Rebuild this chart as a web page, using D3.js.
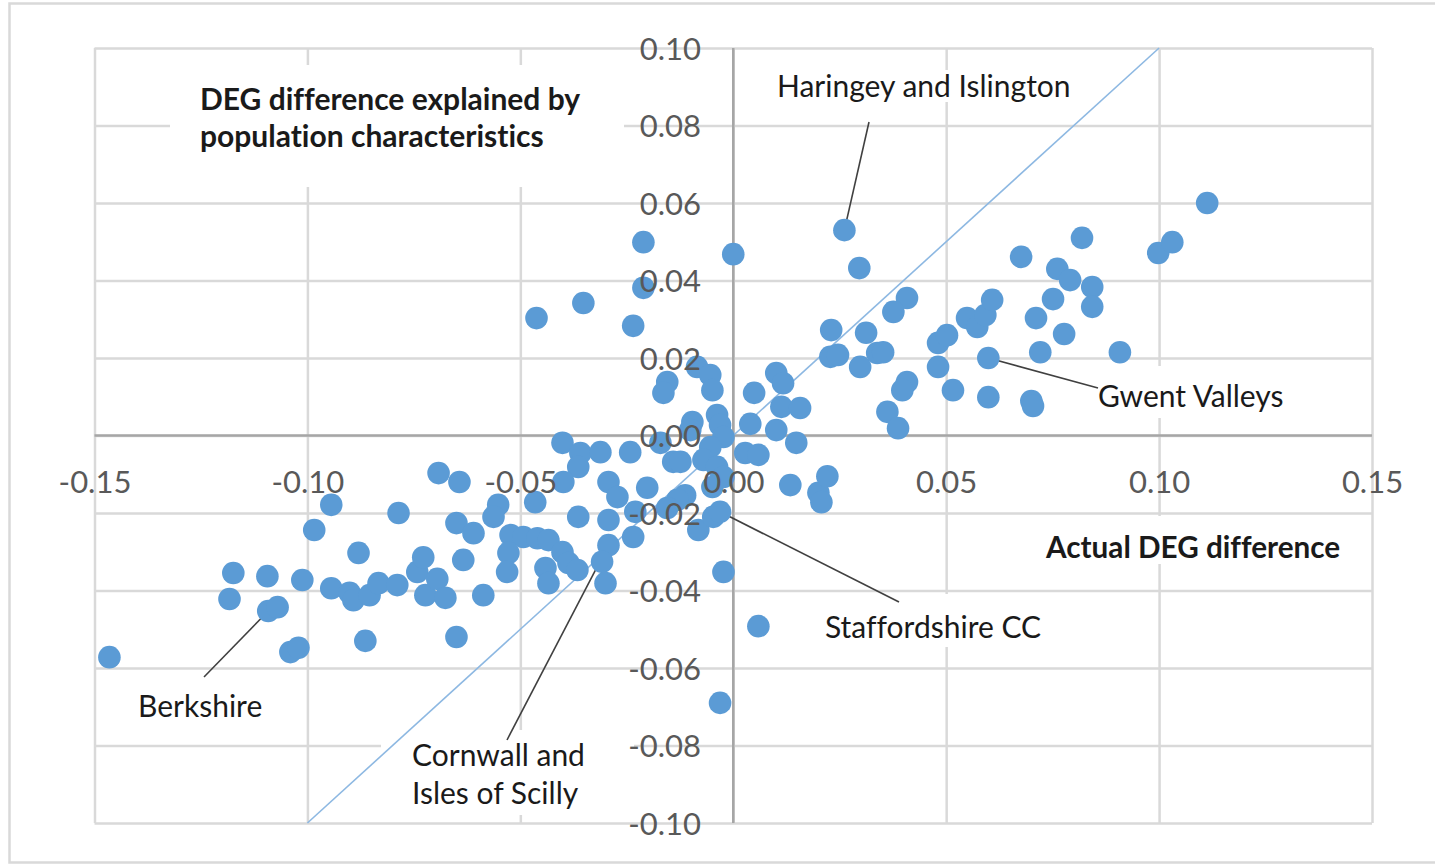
<!DOCTYPE html>
<html>
<head>
<meta charset="utf-8">
<script src="https://cdn.jsdelivr.net/npm/d3@7"></script>
<style>
  html, body { margin: 0; padding: 0; background: #ffffff; }
  svg { display: block; }
  text { font-variant-ligatures: none; font-feature-settings: "liga" 0, "clig" 0; }
</style>
</head>
<body>
<svg id="chart" width="1435" height="866"></svg>
<script>
// Actual DEG difference (x) per area
const actualDiff = [
  -0.1465, -0.1174, -0.1183, -0.1094, -0.1092, -0.1070, -0.1040, -0.1021, -0.1012, -0.0984,
  -0.0944, -0.0944, -0.0901, -0.0892, -0.0880, -0.0864, -0.0854, -0.0833, -0.0789, -0.0786,
  -0.0742, -0.0728, -0.0723, -0.0695, -0.0676, -0.0692, -0.0643, -0.0650, -0.0610, -0.0650,
  -0.0587, -0.0634, -0.0552, -0.0563, -0.0523, -0.0493, -0.0460, -0.0434, -0.0528, -0.0531,
  -0.0465, -0.0401, -0.0387, -0.0441, -0.0434, -0.0366, -0.0401, -0.0359, -0.0364, -0.0312,
  -0.0242, -0.0399, -0.0293, -0.0272, -0.0202, -0.0364, -0.0293, -0.0230, -0.0235, -0.0293,
  -0.0308, -0.0300, -0.0462, -0.0352, -0.0235, -0.0211, -0.0211,  0.0000, -0.0155, -0.0164,
  -0.0085, -0.0054, -0.0049, -0.0171, -0.0141, -0.0124, -0.0096, -0.0101, -0.0038, -0.0031,
  -0.0023, -0.0054, -0.0070, -0.0038, -0.0023, -0.0049, -0.0113, -0.0131, -0.0155, -0.0082,
  -0.0047, -0.0031, -0.0023,  0.0059, -0.0031,  0.0028,  0.0059,  0.0040,  0.0049,  0.0101,
   0.0117,  0.0113,  0.0157,  0.0101,  0.0148,  0.0134,  0.0200,  0.0221,  0.0207,  0.0261,
   0.0296,  0.0408,  0.0376,  0.0230,  0.0312,  0.0228,  0.0246,  0.0298,  0.0338,  0.0352,
   0.0362,  0.0387,  0.0408,  0.0397,  0.0481,  0.0481,  0.0502,  0.0516,  0.0549,  0.0573,
   0.0592,  0.0608,  0.0599,  0.0599,  0.0676,  0.0819,  0.0761,  0.0791,  0.0843,  0.0843,
   0.0751,  0.0711,  0.0777,  0.0721,  0.0908,  0.0700,  0.0704,  0.0998,  0.1031,  0.1113
];

// DEG difference explained by population characteristics (y) per area
const explainedDiff = [
  -0.0572, -0.0355, -0.0422, -0.0363, -0.0453, -0.0443, -0.0559, -0.0548, -0.0373, -0.0244,
  -0.0179, -0.0394, -0.0406, -0.0425, -0.0303, -0.0530, -0.0412, -0.0381, -0.0386, -0.0200,
  -0.0352, -0.0314, -0.0412, -0.0370, -0.0419, -0.0097, -0.0120, -0.0226, -0.0252, -0.0520,
  -0.0412, -0.0321, -0.0179, -0.0210, -0.0257, -0.0262, -0.0265, -0.0270, -0.0303, -0.0352,
  -0.0172, -0.0301, -0.0329, -0.0342, -0.0381, -0.0347, -0.0019, -0.0045, -0.0081, -0.0043,
  -0.0043, -0.0120, -0.0120, -0.0159, -0.0135, -0.0210, -0.0218, -0.0197, -0.0262, -0.0283,
  -0.0326, -0.0381,  0.0303,  0.0342,  0.0283,  0.0381,  0.0499,  0.0468,  0.0138,  0.0110,
   0.0177,  0.0156,  0.0117, -0.0019, -0.0068, -0.0068,  0.0035,  0.0014,  0.0053,  0.0027,
  -0.0004, -0.0030, -0.0063, -0.0081, -0.0107, -0.0133, -0.0154, -0.0166, -0.0187, -0.0244,
  -0.0210, -0.0197, -0.0352, -0.0492, -0.0690, -0.0045, -0.0050,  0.0030,  0.0110,  0.0161,
   0.0135,  0.0074,  0.0071,  0.0014, -0.0019, -0.0128, -0.0148, -0.0105, -0.0172,  0.0530,
   0.0432,  0.0355,  0.0319,  0.0272,  0.0265,  0.0203,  0.0208,  0.0177,  0.0213,  0.0215,
   0.0061,  0.0019,  0.0138,  0.0117,  0.0177,  0.0239,  0.0259,  0.0117,  0.0303,  0.0280,
   0.0311,  0.0350,  0.0200,  0.0099,  0.0461,  0.0510,  0.0430,  0.0401,  0.0383,  0.0332,
   0.0352,  0.0303,  0.0262,  0.0215,  0.0215,  0.0089,  0.0076,  0.0471,  0.0499,  0.0600
];

// Axis ticks
const xTickValues = [-0.15, -0.10, -0.05, 0.00, 0.05, 0.10, 0.15];
const xTickLabels = ["-0.15", "-0.10", "-0.05", "0.00", "0.05", "0.10", "0.15"];
const yTickValues = [0.10, 0.08, 0.06, 0.04, 0.02, 0.00, -0.02, -0.04, -0.06, -0.08, -0.10];
const yTickLabels = ["0.10", "0.08", "0.06", "0.04", "0.02", "0.00", "-0.02", "-0.04", "-0.06", "-0.08", "-0.10"];

// Equal-difference reference line (actual = explained)
const refLineX = [-0.10, 0.10];
const refLineY = [-0.10, 0.10];

// Named areas and the index of their point in the series above
const calloutNames = [["Haringey and Islington"], ["Gwent Valleys"], ["Staffordshire CC"], ["Berkshire"], ["Cornwall and", "Isles of Scilly"]];
const calloutPoint = [109, 132, 91, 4, 59];

// Axis titles
const yTitleLines = ["DEG difference explained by", "population characteristics"];
const xTitleLines = ["Actual DEG difference"];

// ---------- layout ----------
const W = 1435, H = 866;
const plot = { left: 94.5, right: 1372, top: 48, bottom: 823 };
const FONT = "Lato, 'Open Sans', 'Liberation Sans', sans-serif";

const x = d3.scaleLinear().domain([-0.15, 0.15]).range([plot.left, plot.right]);
const y = d3.scaleLinear().domain([-0.10, 0.10]).range([plot.bottom, plot.top]);

// label placement: text anchor (left, baseline), leader end, white backing box
const calloutLayout = [
  { tx: 777, ty: [97], end: [869, 122], box: [765, 70, 1080, 102] },
  { tx: 1098, ty: [407], end: [1098, 388], box: [1090, 366, 1295, 418] },
  { tx: 825, ty: [638], end: [899, 602], box: [812, 594, 1055, 647] },
  { tx: 138, ty: [717], end: [204, 677], box: [128, 688, 272, 728] },
  { tx: 412, ty: [766, 804], end: [507, 740], box: [381, 730, 634, 815] }
];
const yTitleLayout = { tx: 200, ty: [110, 147], box: [170, 65, 624, 187] };
const xTitleLayout = { tx: 1046, ty: [558], box: [1030, 516, 1360, 564] };

const svg = d3.select("#chart");

svg.append("rect").attr("x", 0).attr("y", 0).attr("width", W).attr("height", H).attr("fill", "#ffffff");
svg.append("rect")
  .attr("x", 9.5).attr("y", 3.5).attr("width", W + 20).attr("height", 859)
  .attr("fill", "none").attr("stroke", "#d9d9d9").attr("stroke-width", 2.5);

// gridlines
const grid = svg.append("g").attr("class", "grid");
grid.append("g")
  .attr("transform", `translate(0,${plot.bottom})`)
  .call(d3.axisBottom(x).tickValues(xTickValues).tickSize(-(plot.bottom - plot.top)).tickFormat(""))
  .call(g => g.select(".domain").remove())
  .call(g => g.selectAll("line").attr("stroke", "#d9d9d9").attr("stroke-width", 2.5));
grid.append("g")
  .attr("transform", `translate(${plot.left},0)`)
  .call(d3.axisLeft(y).tickValues(yTickValues).tickSize(-(plot.right - plot.left)).tickFormat(""))
  .call(g => g.select(".domain").remove())
  .call(g => g.selectAll("line").attr("stroke", "#d9d9d9").attr("stroke-width", 2.5));

// zero axes
svg.append("line")
  .attr("x1", plot.left).attr("x2", plot.right).attr("y1", y(0)).attr("y2", y(0))
  .attr("stroke", "#a6a6a6").attr("stroke-width", 2.5);
svg.append("line")
  .attr("x1", x(0)).attr("x2", x(0)).attr("y1", plot.top).attr("y2", plot.bottom)
  .attr("stroke", "#a6a6a6").attr("stroke-width", 2.5);

// white backing boxes behind titles and area labels
const boxes = [yTitleLayout.box, xTitleLayout.box].concat(calloutLayout.map(c => c.box));
svg.append("g").selectAll("rect").data(boxes).join("rect")
  .attr("x", b => b[0]).attr("y", b => b[1])
  .attr("width", b => b[2] - b[0]).attr("height", b => b[3] - b[1])
  .attr("fill", "#ffffff");

// reference diagonal
svg.append("line")
  .attr("x1", x(refLineX[0])).attr("y1", y(refLineY[0]))
  .attr("x2", x(refLineX[1])).attr("y2", y(refLineY[1]))
  .attr("stroke", "#8db8e2").attr("stroke-width", 1.6);

// leader lines
svg.append("g").selectAll("line").data(calloutPoint).join("line")
  .attr("x1", i => x(actualDiff[i])).attr("y1", i => y(explainedDiff[i]))
  .attr("x2", (i, k) => calloutLayout[k].end[0]).attr("y2", (i, k) => calloutLayout[k].end[1])
  .attr("stroke", "#404040").attr("stroke-width", 1.6);

// points
svg.append("g").selectAll("circle").data(actualDiff).join("circle")
  .attr("cx", d => x(d))
  .attr("cy", (d, i) => y(explainedDiff[i]))
  .attr("r", 11.3)
  .attr("fill", "#5b9bd5");

// tick labels
const tickFont = 31;
svg.append("g")
  .attr("transform", `translate(0,${493})`)
  .call(d3.axisBottom(x).tickValues(xTickValues).tickSize(0).tickFormat((d, i) => xTickLabels[i]))
  .call(g => g.select(".domain").remove())
  .call(g => g.selectAll("text")
    .attr("y", 0).attr("dy", 0)
    .attr("fill", "#595959").attr("font-family", FONT).attr("font-size", tickFont));
svg.append("g")
  .attr("transform", `translate(${701},0)`)
  .call(d3.axisLeft(y).tickValues(yTickValues).tickSize(0).tickFormat((d, i) => yTickLabels[i]))
  .call(g => g.select(".domain").remove())
  .call(g => g.selectAll("text")
    .attr("x", 0).attr("dy", "0.36em")
    .attr("fill", "#595959").attr("font-family", FONT).attr("font-size", tickFont));

// axis titles
function drawLines(layout, lines, weight, size) {
  const t = svg.append("text")
    .attr("font-family", FONT).attr("font-weight", weight).attr("font-size", size)
    .attr("fill", "#1a1a1a");
  lines.forEach((s, k) => t.append("tspan").attr("x", layout.tx).attr("y", layout.ty[k]).text(s));
}
drawLines(yTitleLayout, yTitleLines, 700, 30);
drawLines(xTitleLayout, xTitleLines, 700, 29.7);

// area labels
calloutNames.forEach((lines, k) => drawLines(calloutLayout[k], lines, 400, 30));
</script>
</body>
</html>
